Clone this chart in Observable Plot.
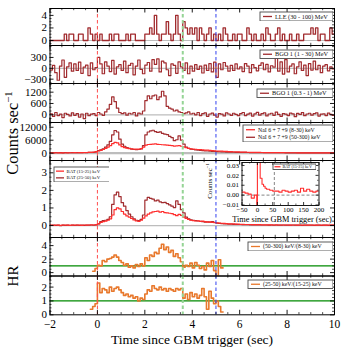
<!DOCTYPE html>
<html>
<head>
<meta charset="utf-8">
<script src="https://cdn.jsdelivr.net/npm/d3@7"></script>
<script src="https://cdn.jsdelivr.net/npm/@observablehq/plot@0.6"></script>
<style>
html,body{margin:0;padding:0;background:#fff;}
#wrap{position:relative;width:350px;height:350px;overflow:hidden;background:#fff;font-family:'Liberation Serif','Times New Roman',serif;color:#000;}
#wrap svg{position:absolute;left:0;top:0;}
.lbl{position:absolute;white-space:nowrap;line-height:1;transform:translate(-50%,-50%);}
.rot{transform:translate(-50%,-50%) rotate(-90deg);}
.lbl sup{font-size:65%;vertical-align:0.55em;line-height:0;}
</style>
</head>
<body>
<div id="wrap"></div>
<script>
// ---------------- data ----------------
const binStart = -2, binWidth = 0.1, tEnd = 10;

const xTickLabels = [-2, 0, 2, 4, 6, 8, 10];
const lleTicks = [0, 2, 4];
const bgoHiTicks = [-300, 0, 300];
const bgoLoTicks = [0, 600, 1200];
const naiTicks = [0, 6000, 12000];
const batTicks = [0, 1, 2, 3];
const hr1Ticks = [0, 2, 4];
const hr2Ticks = [0, 1, 2];
const insetXTicks = [-50, 0, 50, 100, 150, 200];
const insetYTicks = [-0.01, 0, 0.01, 0.02, 0.03];

const markerTimes = [0, 3.6, 5];   // trigger (red), green, blue
const hrLevel = [1];
const insetMarker = [55];

// LLE (30 - 100) MeV, 0.1 s bins from -2 s
const lle = [
 0,0,0,0,0,0,1,0,1,1,
 0,0,1,1,0,0,2,1,0,1,
 0,1,0,0,0,1,0,1,1,0,
 0,0,1,0,1,1,0,0,0,0,
 1,1,2,1,4,1,0,1,1,3,
 1,0,1,4,1,0,3,2,1,2,
 1,2,0,2,1,0,1,2,0,1,
 0,1,0,2,1,0,0,1,0,1,
 1,0,0,2,1,0,1,0,0,1,
 0,2,1,0,0,1,2,0,1,0,
 0,1,0,0,1,0,0,1,1,1,
 2,1,2,0,1,1,0,0,2,1
];
// BGO 1 (1 - 30) MeV
const bgoHi = [
 -50, 80, -120, -330, 60, 230, -250, 40, 150, -80,
 120, -60, 170, -140, 30, 90, -200, 150, -40, 20,
 300, 120, -150, 180, 60, -90, 220, -160, 40, 100,
 -60, 200, -120, 80, 140, -180, 60, 230, -30, -150,
 90, 160, -80, 240, 110, 260, -100, 200, 150, -40,
 -200, 120, 80, -140, 180, 40, -60, 150, -150, 60,
 -80, 100, -30, 60, -130, 90, -60, 130, -100, 170,
 -250, 120, -40, 160, 60, -80, 80, -60, 120, -20,
 40, -90, 130, 60, -120, 100, 20, -70, 80, 150,
 -40, 110, -100, 70, 30, 290, -80, 180, -160, 240,
 -100, 60, 120, -150, 40, 180, -60, 90, -200, 130,
 -50, 200, -40, 80, -120, 60, 100, -70, 40, -20
];
// BGO 1 (0.3 - 1) MeV
const bgoLo = [
 50, -80, 120, -40, 30, -150, 80, 20, -60, 100,
 -30, 60, -120, 40, -200, 80, -50, 30, 60, -40,
 120, 40, -30, 150, 300, 550, 950, 700, 350, 120,
 60, 100, -20, 80, 40, 120, -60, 90, 40, 200,
 750, 1000, 850, 1000, 1050, 800, 950, 1250, 1000, 450,
 350, 300, 200, 250, 150, 120, 60, 100, 150, 40,
 80, 0, 120, -40, 60, 100, -80, 40, 90, -20,
 -120, 60, 30, -60, 100, 40, -30, 80, 20, -50,
 60, 120, -40, 30, 90, -70, 50, 130, -20, 60,
 100, -60, 40, 80, -30, 140, 20, -80, 60, 30,
 -40, 90, 50, -100, 70, 20, 110, -50, 40, 80,
 -20, 60, 100, -70, 30, 50, -40, 90, 20, -30
];
// NaI 6 + 7 + 9 (8-30) keV
const naiSoft = [
 150,120,180,150,170,140,200,160,180,200,
 220,200,240,250,280,300,350,400,500,700,
 1000,1300,1700,2200,2800,3500,4400,5000,4800,3800,
 3000,2600,2300,2100,2000,1900,1850,1900,2100,2800,
 3700,4000,4100,4200,4300,4100,4000,3900,3800,3700,
 3600,3500,3300,3400,3500,3200,2900,2500,2200,2000,
 1900,1800,1700,1600,1500,1450,1400,1300,1200,1100,
 1000,950,900,850,800,750,700,650,600,560,
 520,480,450,420,400,380,360,340,320,300,
 290,280,270,260,250,240,230,220,210,200,
 200,190,180,180,170,170,160,160,150,150,
 150,140,140,140,130,130,130,120,120,120
];
// NaI 6 + 7 + 9 (50-300) keV
const naiHard = [
 200,150,250,180,220,160,240,200,180,260,
 220,250,200,280,300,260,320,350,400,600,
 1200,1500,2000,2800,3800,5500,8500,10500,9800,6500,
 4200,3200,2600,2200,1900,1700,1600,1700,2000,3500,
 8500,9800,10300,10600,10000,9600,9900,9200,8800,8600,
 7800,7200,5800,6200,8000,6000,4200,2800,2200,1900,
 1700,1500,1400,1300,1200,1100,1000,900,850,800,
 700,650,600,550,500,480,450,420,400,380,
 360,340,320,300,290,280,270,260,250,240,
 230,220,210,200,200,190,190,180,180,170,
 170,160,160,150,150,150,140,140,140,130,
 130,130,120,120,120,110,110,110,100,100
];
// BAT (15-25) keV
const batSoft = [
 0.02,0.01,0.03,0.02,0.01,0.03,0.02,0.02,0.01,0.03,
 0.02,0.03,0.02,0.01,0.03,0.02,0.03,0.04,0.03,0.05,
 0.10,0.18,0.22,0.25,0.30,0.38,0.60,0.90,1.00,0.95,
 0.80,0.65,0.55,0.48,0.40,0.32,0.26,0.24,0.30,0.42,
 0.55,0.65,0.72,0.78,0.80,0.82,0.76,0.80,0.74,0.72,
 0.70,0.68,0.62,0.56,0.64,0.58,0.48,0.40,0.35,0.30,
 0.28,0.26,0.27,0.24,0.25,0.22,0.20,0.21,0.18,0.17,
 0.15,0.14,0.13,0.12,0.11,0.10,0.09,0.09,0.08,0.08,
 0.07,0.07,0.06,0.06,0.06,0.05,0.05,0.05,0.05,0.04,
 0.04,0.04,0.04,0.04,0.03,0.04,0.03,0.03,0.03,0.03,
 0.03,0.02,0.03,0.03,0.02,0.03,0.02,0.03,0.02,0.02,
 0.03,0.02,0.02,0.03,0.02,0.02,0.02,0.03,0.02,0.02
];
// BAT (25-50) keV
const batHard = [
 0.01,0.02,0.01,0.02,0.00,0.02,0.01,0.02,0.01,0.02,
 0.01,0.02,0.01,0.02,0.01,0.02,0.02,0.03,0.02,0.04,
 0.10,0.22,0.28,0.30,0.35,0.50,1.20,1.75,1.90,1.65,
 1.30,1.10,0.85,0.65,0.50,0.38,0.30,0.28,0.35,0.60,
 1.45,1.60,1.55,1.50,1.40,1.45,1.35,1.30,1.32,1.25,
 1.18,1.10,1.02,1.40,1.20,0.90,0.72,0.48,0.38,0.32,
 0.30,0.28,0.26,0.24,0.22,0.20,0.21,0.19,0.22,0.18,
 0.14,0.12,0.11,0.10,0.09,0.08,0.08,0.07,0.07,0.06,
 0.06,0.05,0.05,0.05,0.04,0.04,0.04,0.04,0.03,0.03,
 0.03,0.03,0.02,0.03,0.02,0.03,0.02,0.02,0.03,0.02,
 0.02,0.02,0.03,0.02,0.02,0.02,0.01,0.02,0.02,0.02,
 0.02,0.01,0.02,0.02,0.01,0.02,0.02,0.01,0.02,0.02
];
// HR (50-300) keV/(8-30) keV, 0.1 s bins from -0.2 s
const hr1Start = -0.2;
const hr1 = [
 0.2,0.6,
 1.1,1.0,1.8,1.6,2.0,2.1,2.3,2.6,2.3,1.8,
 1.5,1.1,1.3,0.8,1.0,0.7,1.2,0.9,1.3,1.0,
 2.2,1.8,2.6,2.4,3.0,2.8,3.6,4.2,3.4,3.8,
 3.0,3.3,2.4,2.8,2.2,1.6,0.8,1.1,0.9,1.4,
 0.7,1.5,1.1,0.6,0.9,0.4,1.4,0.9,1.8,0.3,
 -0.5,1.9,0.7
];
// HR (25-50) keV/(15-25) keV, 0.1 s bins from -0.3 s
const hr2Start = -0.3;
const hr2 = [
 0.4,0.6,0.8,
 2.3,1.6,1.9,1.8,1.6,2.0,1.7,1.9,2.0,1.8,
 1.6,1.4,1.5,1.3,1.4,1.2,1.3,1.0,1.2,1.1,
 1.5,1.8,1.7,2.1,1.9,1.8,2.0,1.8,1.9,1.7,
 1.9,1.8,1.7,1.9,1.8,1.9,1.2,1.5,1.1,1.6,
 1.3,1.5,1.2,1.4,1.9,1.3,0.4,1.7,1.2,0.8,
 1.0,0.6,0.2
];
// inset: BAT (15-25) keV over a long window
const insetT = [-50,-40,-30,-20,-10,-2,0,6,9,15,20,25,30,40,50,60,70,80,90,100,110,120,130,140,150,160,170,180,190,200];
const insetV = [0.003,0.002,0.001,-0.003,0.0,-0.03,0.08,0.04,0.017,0.011,0.009,0.007,0.006,0.005,0.004,0.004,0.003,0.005,0.004,0.003,0.004,0.005,0.003,0.007,0.004,0.006,0.004,0.003,0.004,0.004];

// ---------------- helpers ----------------
const FONT = "'Liberation Serif','Times New Roman',serif";
const DARK = "#a12b2e", BRIGHT = "#ff2d2d", ORANGE = "#e8782c", GREEN = "#008a00";
const TICKFS = 11;
const wrap = document.getElementById("wrap");
const fmt = d => (d < 0 ? "\u2212" + (-d) : String(d));

function steps(vals, t0, dt, end) {
  const out = vals.map((v, i) => ({t: +(t0 + i * dt).toFixed(4), v}));
  out.push({t: end, v: vals[vals.length - 1]});
  return out;
}
function ticksFor(dom, step) {
  const a = Math.ceil(dom[0] / step - 1e-9), b = Math.floor(dom[1] / step + 1e-9), out = [];
  for (let k = a; k <= b; k++) out.push(+(k * step).toFixed(6));
  return out;
}
function frameTicks(xv, yv, lenX, lenY, H, W, sw) {
  return [
    Plot.tickX(xv, {x: d => d, insetTop: H - lenX, stroke: "#000", strokeWidth: sw}),
    Plot.tickX(xv, {x: d => d, insetBottom: H - lenX, stroke: "#000", strokeWidth: sw}),
    Plot.tickY(yv, {y: d => d, insetRight: W - lenY, stroke: "#000", strokeWidth: sw}),
    Plot.tickY(yv, {y: d => d, insetLeft: W - lenY, stroke: "#000", strokeWidth: sw})
  ];
}
function add(svg) { wrap.appendChild(svg); return svg; }

const L = 49.5, R = 334, W = R - L;
const markerRules = [
  Plot.ruleX([markerTimes[0]], {x: d => d, stroke: "#ff4d4d", strokeWidth: 1, strokeDasharray: "3.5,2.5"}),
  Plot.ruleX([markerTimes[1]], {x: d => d, stroke: "#95d495", strokeWidth: 2, strokeDasharray: "3.5,2.5"}),
  Plot.ruleX([markerTimes[2]], {x: d => d, stroke: "#3240f0", strokeWidth: 1, strokeDasharray: "3.5,2.5"})
];

function panel(p) {
  const H = p.bottom - p.top;
  const xMajor = xTickLabels, xMinor = ticksFor([-2, 10], 0.5).filter(v => !xMajor.includes(v));
  const yMajor = p.ticks, yMinor = ticksFor(p.domain, p.minor).filter(v => !yMajor.includes(v));
  const marks = [
    p.zero ? Plot.ruleY([0], {y: d => d, stroke: "#bdbdbd", strokeWidth: p.zero}) : null,
    ...p.marks,
    ...markerRules,
    Plot.frame({stroke: "#000", strokeWidth: 1}),
    ...frameTicks(xMajor, yMajor, 4.5, 4, H, W, 0.9),
    ...frameTicks(xMinor, yMinor, 2.2, 2, H, W, 0.7),
    Plot.axisY(yMajor, {tickSize: 0, tickPadding: 3, tickFormat: fmt, label: null, fontSize: TICKFS}),
    p.xAxis ? Plot.axisX(xTickLabels, {tickSize: 0, tickPadding: 5.5, tickFormat: fmt, label: null, fontSize: 11.5}) : null
  ].filter(Boolean);
  return add(Plot.plot({
    width: 350, height: 350,
    marginLeft: L, marginRight: 350 - R, marginTop: p.top, marginBottom: 350 - p.bottom,
    x: p.xAxis ? {domain: [-2, 10]} : {domain: [-2, 10], axis: null},
    y: {domain: p.domain},
    style: {background: "transparent", fontFamily: FONT, fontSize: TICKFS + "px", color: "#000", overflow: "visible"},
    marks
  }));
}
const stepLine = (data, stroke, sw) => Plot.line(data, {x: "t", y: "v", curve: "step-after", stroke, strokeWidth: sw, clip: true});

function legend(left, top, w, h, entries, fs, lineX = [4, 13], textX = 15.5) {
  const n = entries.length;
  const rowY = i => h * (n === 1 ? 0.5 : (i === 0 ? 0.29 : 0.71));
  const marks = [Plot.frame({fill: "white", stroke: "#4a4a4a", strokeWidth: 0.9, inset: 0.5})];
  entries.forEach((e, i) => {
    marks.push(Plot.ruleY([rowY(i)], {y: d => d, x1: lineX[0], x2: lineX[1], stroke: e.color, strokeWidth: 1.3}));
    marks.push(Plot.text([e.label], {x: textX, y: rowY(i), text: d => d, textAnchor: "start", fontSize: fs, fill: "#111"}));
  });
  const svg = Plot.plot({
    width: w, height: h, margin: 0,
    x: {domain: [0, w], range: [0, w], axis: null},
    y: {domain: [0, h], range: [0, h], axis: null},
    style: {background: "transparent", fontFamily: FONT},
    marks
  });
  svg.style.left = left + "px"; svg.style.top = top + "px";
  return add(svg);
}
function label(html, cx, cy, fs, rot) {
  const d = document.createElement("div");
  d.className = "lbl" + (rot ? " rot" : "");
  d.style.left = cx + "px"; d.style.top = cy + "px"; d.style.fontSize = fs + "px";
  d.innerHTML = html;
  wrap.appendChild(d);
}

// ---------------- panels ----------------
panel({top: 8, bottom: 45, domain: [-0.8, 5.1], ticks: lleTicks, minor: 0.5, zero: 1.2,
  marks: [stepLine(steps(lle, binStart, binWidth, tEnd), DARK, 1.3)]});
panel({top: 45, bottom: 83, domain: [-420, 630], ticks: bgoHiTicks, minor: 100, zero: 1.2,
  marks: [stepLine(steps(bgoHi, binStart, binWidth, tEnd), DARK, 1.2)]});
panel({top: 83, bottom: 122, domain: [-410, 1660], ticks: bgoLoTicks, minor: 200, zero: 1.2,
  marks: [stepLine(steps(bgoLo, binStart, binWidth, tEnd), DARK, 1.2)]});
panel({top: 122, bottom: 160, domain: [-3400, 14200], ticks: naiTicks, minor: 2000, zero: 2.2,
  marks: [stepLine(steps(naiHard, binStart, binWidth, tEnd), DARK, 1.2),
          stepLine(steps(naiSoft, binStart, binWidth, tEnd), BRIGHT, 1.2)]});
panel({top: 160, bottom: 237, domain: [-0.68, 3.7], ticks: batTicks, minor: 0.25, zero: 1.2,
  marks: [stepLine(steps(batHard, binStart, binWidth, tEnd), DARK, 1.2),
          stepLine(steps(batSoft, binStart, binWidth, tEnd), BRIGHT, 1.2)]});
panel({top: 237, bottom: 275.5, domain: [-0.5, 5.2], ticks: hr1Ticks, minor: 0.5, zero: 0,
  marks: [Plot.ruleY(hrLevel, {y: d => d, stroke: GREEN, strokeWidth: 1.3}),
          stepLine(steps(hr1, hr1Start, binWidth, 5.3), ORANGE, 1.6)]});
panel({top: 275.5, bottom: 314.3, domain: [0, 2.8], ticks: hr2Ticks, minor: 0.25, zero: 0, xAxis: true,
  marks: [Plot.ruleY(hrLevel, {y: d => d, stroke: GREEN, strokeWidth: 1.3}),
          stepLine(steps(hr2, hr2Start, binWidth, 5.3), ORANGE, 1.6)]});

// ---------------- inset ----------------
{
  const IL = 241.5, IR = 318.5, IT = 162, IB = 205;
  const dom = [-0.0105, 0.033];
  const insetData = insetT.map((t, i) => ({t, v: insetV[i]}));
  const xMinor = ticksFor([-50, 200], 25).filter(v => !insetXTicks.includes(v));
  const yMinor = ticksFor(dom, 0.005).filter(v => !insetYTicks.some(t => Math.abs(t - v) < 1e-9));
  add(Plot.plot({
    width: 350, height: 350,
    marginLeft: IL, marginRight: 350 - IR, marginTop: IT, marginBottom: 350 - IB,
    x: {domain: [-50, 200]}, y: {domain: dom},
    style: {background: "transparent", fontFamily: FONT, fontSize: "7px", color: "#000", overflow: "visible"},
    marks: [
      Plot.frame({fill: "white"}),
      Plot.ruleY([0], {y: d => d, stroke: "#666", strokeWidth: 0.8, strokeDasharray: "3,2"}),
      Plot.ruleX(insetMarker, {x: d => d, stroke: "#666", strokeWidth: 0.8, strokeDasharray: "3,2"}),
      Plot.line(insetData, {x: "t", y: "v", curve: "step-after", stroke: BRIGHT, strokeWidth: 1.1, clip: true}),
      Plot.frame({stroke: "#000", strokeWidth: 0.9}),
      ...frameTicks(insetXTicks, insetYTicks, 3, 3, IB - IT, IR - IL, 0.8),
      ...frameTicks(xMinor, yMinor, 1.5, 1.5, IB - IT, IR - IL, 0.6),
      Plot.axisY(insetYTicks, {tickSize: 0, tickPadding: 3, tickFormat: d3.format(".2f"), label: null, fontSize: 7}),
      Plot.axisX(insetXTicks, {tickSize: 0, tickPadding: 2, tickFormat: fmt, label: null, fontSize: 7})
    ]
  }));
}

// ---------------- legends ----------------
legend(259, 11, 74, 10, [{label: "LLE (30 - 100) MeV", color: DARK}], 6.3);
legend(259, 49, 74, 9.5, [{label: "BGO 1 (1 - 30) MeV", color: DARK}], 6.3);
legend(256, 88, 77, 9.5, [{label: "BGO 1 (0.3 - 1) MeV", color: DARK}], 6.3);
legend(242, 124, 91, 18, [{label: "NaI 6 + 7 +9 (8-30) keV", color: BRIGHT}, {label: "NaI 6 + 7 +9 (50-300) keV", color: DARK}], 5.8);
legend(52.5, 165.5, 56.5, 16, [{label: "BAT (15-25) keV", color: BRIGHT}, {label: "BAT (25-50) keV", color: DARK}], 4.8, [3, 11], 13);
legend(247, 240.5, 86, 10, [{label: "(50-300) keV/(8-30) keV", color: ORANGE}], 5.8);
legend(247, 279, 86, 9.5, [{label: "(25-50) keV/(15-25) keV", color: ORANGE}], 5.8);
legend(272, 163, 44, 6.5, [{label: "BAT (15-25) keV", color: BRIGHT}], 4.2, [2.5, 8.5], 10);

// ---------------- titles ----------------
label("Counts sec<sup>\u22121</sup>", 13, 133, 16.5, true);
label("HR", 13, 276, 15, true);
label("Time since GBM trigger (sec)", 192, 340, 13.5, false);
label("Time since GBM trigger (sec)", 282, 219.5, 8.3, false);
label("Counts sec<sup>\u22121</sup>", 210, 181, 7, true);
</script>
</body>
</html>
